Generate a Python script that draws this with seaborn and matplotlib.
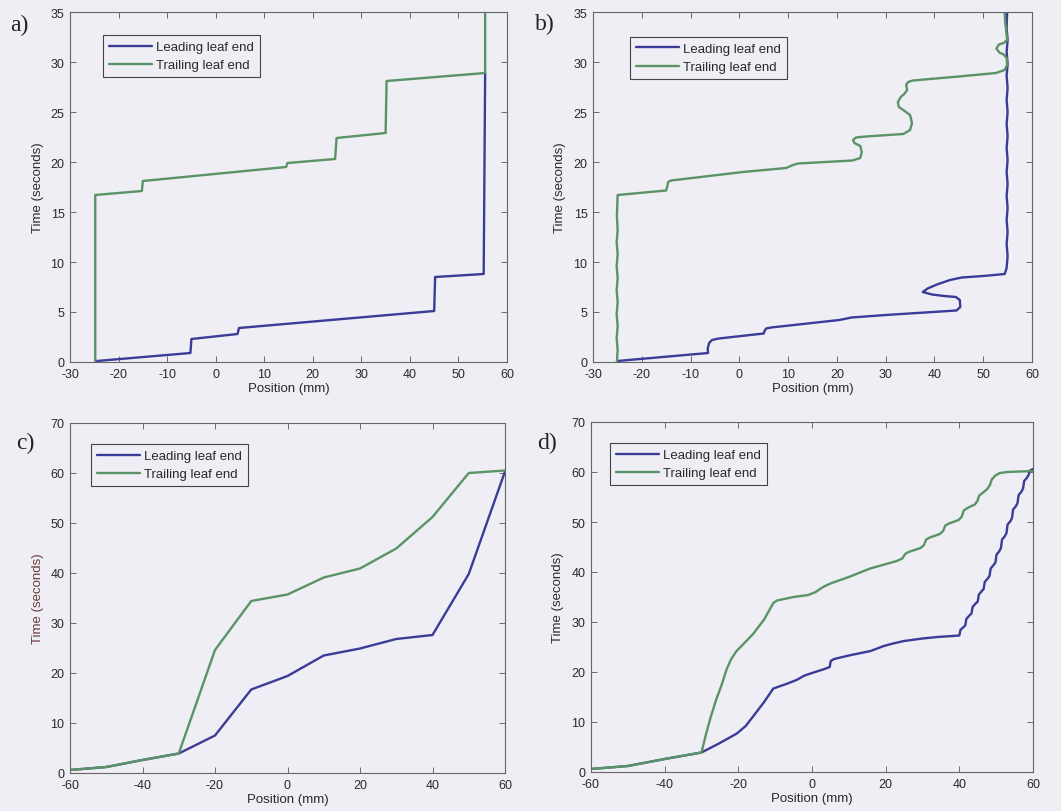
import matplotlib
matplotlib.use("Agg")
import matplotlib.pyplot as plt
import pandas as pd
import seaborn as sns

# ---------------- a) step-and-shoot delivery ----------------
a_lead_x = [-24.5, -5.2, -5.0, 4.5, 4.8, 45.0, 45.2, 55.2, 55.5]
a_lead_y = [0.1, 0.9, 2.3, 2.8, 3.4, 5.1, 8.5, 8.8, 28.9]
a_trail_x = [-24.8, -24.8, -15.2, -15.0, 14.5, 14.8, 24.6, 24.9, 35.0, 35.2, 55.5, 55.5]
a_trail_y = [0.0, 16.7, 17.1, 18.1, 19.5, 19.9, 20.3, 22.4, 22.9, 28.1, 28.9, 35.0]

# ---------------- b) measured step-and-shoot ----------------
b_lead_x = [-25.0, -6.4, -6.5, -6.2, -5.6, -4.2, 5.0, 5.2, 5.5, 6.5, 20.5, 23.0,
            30.0, 44.5, 45.3, 45.2, 44.4, 42.0, 39.5, 37.6, 38.6, 40.5, 43.2, 45.6,
            50.0, 54.4, 54.8, 55.0, 54.8, 55.0, 54.8, 55.0, 54.8, 55.0, 54.8,
            55.0, 54.8, 55.0, 54.8, 55.0, 54.8, 55.0, 54.8, 55.0, 54.8, 55.0,
            54.8, 54.9]
b_lead_y = [0.1, 0.9, 1.3, 1.9, 2.2, 2.35, 2.85, 3.15, 3.35, 3.45, 4.2, 4.45,
            4.7, 5.15, 5.5, 6.2, 6.5, 6.6, 6.75, 7.0, 7.35, 7.75, 8.2, 8.45,
            8.6, 8.8, 9.4, 10.6, 11.8, 13.0, 14.2, 15.4, 16.6, 17.8, 19.0,
            20.2, 21.4, 22.6, 23.8, 25.0, 26.2, 27.4, 28.6, 29.8, 31.0, 32.2,
            33.4, 35.0]
b_trail_x = [-25.1, -24.95, -25.15, -24.95, -25.15, -24.95, -25.15, -24.95, -25.15,
             -24.95, -25.15, -24.95, -25.1, -24.95, -15.0, -14.8, -14.6, -14.0,
             0.7, 9.6, 11.0, 12.0, 23.2, 24.8, 25.1, 24.8, 23.6, 23.3, 23.9,
             25.9, 33.6, 35.0, 35.4, 35.0, 33.6, 32.7, 32.5, 33.1, 33.8, 34.4,
             34.2, 34.6, 35.6, 45.0, 52.6, 54.4, 54.9, 54.8, 54.2, 53.3, 52.7,
             53.2, 54.2, 54.9, 54.7, 54.5, 54.4]
b_trail_y = [0.0, 1.2, 2.4, 3.6, 4.8, 6.0, 7.2, 8.4, 9.6, 10.8, 12.0, 13.2,
             14.6, 16.7, 17.15, 17.5, 18.0, 18.15, 19.0, 19.4, 19.7, 19.85,
             20.15, 20.4, 21.0, 21.6, 21.9, 22.2, 22.45, 22.55, 22.8, 23.2,
             23.9, 24.7, 25.2, 25.5, 26.0, 26.5, 26.8, 27.2, 27.7, 28.0, 28.15,
             28.55, 28.9, 29.2, 29.7, 30.4, 30.75, 30.95, 31.35, 31.75, 31.9,
             32.2, 33.2, 34.0, 35.0]

# ---------------- c) sliding window delivery ----------------
c_lead_x = [-60, -50, -40, -30, -20, -10, 0, 10, 20, 30, 40, 50, 60]
c_lead_y = [0.6, 1.2, 2.6, 3.9, 7.5, 16.7, 19.4, 23.5, 24.9, 26.8, 27.6, 39.8, 60.3]
c_trail_x = [-60, -50, -40, -30, -20, -10, 0, 10, 20, 30, 40, 50, 60]
c_trail_y = [0.6, 1.2, 2.6, 3.9, 24.6, 34.4, 35.7, 39.1, 40.9, 44.9, 51.2, 60.0, 60.5]

# ---------------- d) measured sliding window ----------------
d_lead_x = [-60, -50, -40, -30, -25, -20.4, -18.0, -15.9, -13.0, -10.5, -7.0,
            -4.2, -2.0, 0.0, 3.0, 4.8, 5.1, 6.0, 10.0, 15.9, 19.5, 22.0, 25.0,
            30.0, 34.0, 40.0,
            40.3, 41.0, 41.6, 41.9, 42.6, 43.3, 43.6, 44.3, 45.0, 45.3, 46.0,
            46.6, 46.9, 47.6, 48.2, 48.5, 49.2, 49.8, 50.1, 50.8, 51.3, 51.6,
            52.3, 52.8, 53.1, 53.8, 54.3, 54.6, 55.3, 55.8, 56.1, 56.8, 57.3,
            57.6, 58.3, 58.8, 59.2, 60.0]
d_lead_y = [0.6, 1.2, 2.6, 3.9, 5.8, 7.7, 9.2, 11.2, 14.0, 16.7, 17.6,
            18.4, 19.3, 19.8, 20.5, 21.0, 22.2, 22.6, 23.3, 24.2, 25.2, 25.7, 26.2,
            26.7, 27.0, 27.3,
            28.4, 28.9, 29.3, 30.6, 31.2, 31.7, 33.0, 33.6, 34.1, 35.5, 36.1,
            36.6, 38.0, 38.6, 39.2, 40.7, 41.3, 41.9, 43.5, 44.1, 44.8, 46.5,
            47.1, 47.8, 49.5, 50.1, 50.8, 52.5, 53.1, 53.8, 55.4, 56.0, 56.7,
            58.2, 58.8, 59.4, 60.3, 60.6]
d_trail_x = [-60, -50, -40, -30, -28.8, -27.5, -26.0, -24.5, -23.2, -22.0,
             -20.5, -19.0, -16.0, -13.0, -10.5, -9.5, -5.0, -1.0, 1.0, 3.0,
             5.0, 10.0, 15.8, 23.0, 24.5, 25.3, 26.2, 29.5, 30.4, 31.0, 32.0,
             34.7, 35.6, 36.2, 37.2, 39.8, 40.6, 41.2, 42.2, 44.2, 44.9, 45.4,
             46.3, 47.6, 48.3, 48.8, 49.8, 51.0, 53.0, 60.0]
d_trail_y = [0.6, 1.2, 2.6, 3.9, 7.5, 11.0, 14.5, 17.5, 20.5, 22.5,
             24.2, 25.3, 27.6, 30.5, 33.8, 34.3, 35.0, 35.4, 36.0, 37.0,
             37.7, 39.0, 40.7, 42.2, 42.7, 43.6, 44.0, 44.8, 45.4, 46.5, 46.9,
             47.6, 48.2, 49.3, 49.7, 50.4, 51.0, 52.3, 52.8, 53.5, 54.2, 55.3,
             55.8, 56.6, 57.4, 58.5, 59.3, 59.8, 60.0, 60.2]

series_names = ["Leading leaf end", "Trailing leaf end"]
panel_tags = ["a)", "b)", "c)", "d)"]

BG = "#eeeef4"
BLUE = "#3b3b98"
GREEN = "#5a9466"
INK = "#2a2a2a"

sns.set_style("ticks")
plt.rcParams["font.family"] = ["Liberation Sans", "DejaVu Sans"]
plt.rcParams["axes.unicode_minus"] = False
plt.rcParams["axes.facecolor"] = BG
plt.rcParams["figure.facecolor"] = BG

fig = plt.figure(figsize=(10.61, 8.12), dpi=100)

W, H = 1061.0, 812.0
# pixel boxes (left, top, right, bottom)
boxes = [(70, 13, 507, 363), (593, 13, 1032, 363),
         (70, 424, 505, 774), (591, 423, 1033, 773)]
legend_anchor = [(0.0755, 0.934), (0.084, 0.929), (0.048, 0.94), (0.043, 0.94)]
tag_pos = [(10, 25), (535, 24), (16, 443), (537, 443)]

panels = [
    (a_lead_x, a_lead_y, a_trail_x, a_trail_y),
    (b_lead_x, b_lead_y, b_trail_x, b_trail_y),
    (c_lead_x, c_lead_y, c_trail_x, c_trail_y),
    (d_lead_x, d_lead_y, d_trail_x, d_trail_y),
]

for i, (lx, ly, tx, ty) in enumerate(panels):
    l, t, r, b = boxes[i]
    ax = fig.add_axes([l / W, 1 - b / H, (r - l) / W, (b - t) / H])
    ax.set_facecolor(BG)
    lead = pd.DataFrame({"pos": lx, "time": ly})
    trail = pd.DataFrame({"pos": tx, "time": ty})
    sns.lineplot(data=lead, x="pos", y="time", sort=False, estimator=None,
                 color=BLUE, lw=1.7, ax=ax, label=series_names[0])
    sns.lineplot(data=trail, x="pos", y="time", sort=False, estimator=None,
                 color=GREEN, lw=1.7, ax=ax, label=series_names[1])

    if i < 2:
        ax.set_xlim(-30, 60)
        ax.set_ylim(0, 35)
        ax.set_xticks(range(-30, 61, 10))
        ax.set_yticks(range(0, 36, 5))
    else:
        ax.set_xlim(-60, 60)
        ax.set_ylim(0, 70)
        ax.set_xticks(range(-60, 61, 20))
        ax.set_yticks(range(0, 71, 10))

    ax.tick_params(direction="in", length=4, width=0.6, top=True, right=True,
                   labelsize=9, colors="#555555", labelcolor=INK, pad=4)
    for sp in ax.spines.values():
        sp.set_color("#666666")
        sp.set_linewidth(0.8)
    ax.set_xlabel("Position (mm)", fontsize=9.5, color=INK, labelpad=2)
    ylab_color = "#6b3b3b" if i == 2 else INK
    ax.set_ylabel("Time (seconds)", fontsize=9.5, color=ylab_color, labelpad=5)

    leg = ax.legend(loc="upper left", bbox_to_anchor=legend_anchor[i],
                    borderaxespad=0, fontsize=9.5, frameon=True, fancybox=False,
                    framealpha=1, facecolor=BG, edgecolor="#444444",
                    handlelength=3.3, handletextpad=0.3, labelspacing=0.45,
                    borderpad=0.45)
    leg.get_frame().set_linewidth(0.8)
    for txt in leg.get_texts():
        txt.set_color(INK)

    tx0, ty0 = tag_pos[i]
    fig.text(tx0 / W, 1 - ty0 / H, panel_tags[i], fontsize=17,
             family=["Liberation Serif", "DejaVu Serif"], color="#222222",
             ha="left", va="center")

fig.savefig("out.png", dpi=100, facecolor=BG)
